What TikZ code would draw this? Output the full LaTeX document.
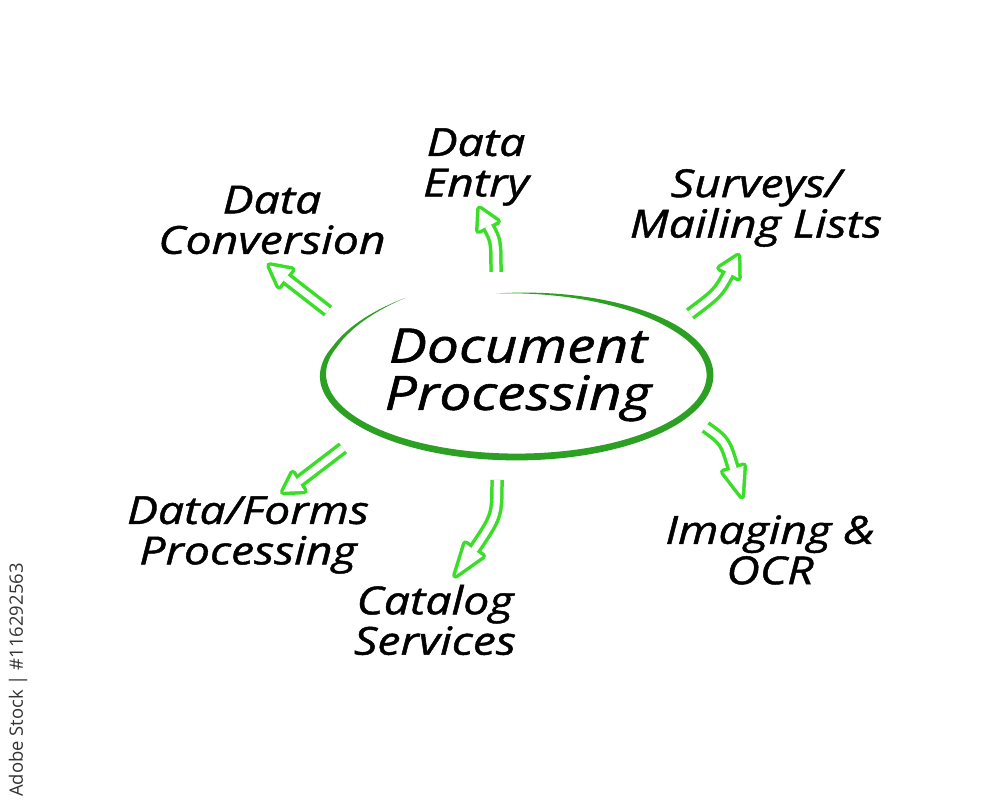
\documentclass[tikz,border=0pt]{standalone}
\usepackage{fontspec}
\usepackage{xcolor}
\usepackage{tikz}
\newfontfamily\handfont{Open Sans}[FakeStretch=1.2, FakeBold=1.2]
\newfontfamily\stockfont{Open Sans}
\definecolor{arrowgreen}{RGB}{58,222,40}
\definecolor{ringgreen}{RGB}{44,160,34}
\tikzset{
	branch/.style={font=\handfont\itshape\fontsize{22}{23}\selectfont, align=center, text=black},
	hub/.style={font=\handfont\itshape\fontsize{27}{27}\selectfont, align=center, text=black},
}
% tail, control, base of head, angle of head, length of head
\newcommand{\hollowarrow}[5]{%
	\draw[arrowgreen, line width=0.27cm] (#1) .. controls (#2) .. (#3);
	\begin{scope}[shift={(#3)}, rotate=#4]
		\filldraw[arrowgreen, line width=0.14cm, line join=round] (0,10.5) -- (#5,0) -- (0,-10.5) -- cycle;
	\end{scope}
	\draw[white, line width=0.13cm] (#1) .. controls (#2) .. (#3);
	\begin{scope}[shift={(#3)}, rotate=#4]
		\fill[white] (0,10.5) -- (#5,0) -- (0,-10.5) -- cycle;
	\end{scope}
}

\begin{document}
\begin{tikzpicture}[x=0.02cm, y=0.02cm]
		\fill[white] (0,0) rectangle (1000,801);
		\useasboundingbox (0,0) rectangle (1000,801);
		% ring
		\fill[ringgreen] plot[domain=125:456, samples=160, smooth]
			({516.5+(193.5+3.4*min(1,1.8*sin((\x-125)*0.5438)))*cos(\x)}, {426+(82+3.4*min(1,1.8*sin((\x-125)*0.5438)))*sin(\x)+10*max(0,(160-\x)/35)})
			-- plot[domain=456:125, samples=160, smooth]
			({516.5+(193.5-3.4*min(1,1.8*sin((\x-125)*0.5438)))*cos(\x)}, {426+(82-3.4*min(1,1.8*sin((\x-125)*0.5438)))*sin(\x)+10*max(0,(160-\x)/35)})
			-- cycle;
		\node[hub] (hub) at (518,426) {Document\\Processing};
		% labels
		\node[branch] (entry) at (476,634) {Data\\Entry};
		\node[branch] (conv) at (272,581) {Data\\Conversion};
		\node[branch] (surveys) at (756,593) {Surveys/\\Mailing Lists};
		\node[branch] (imaging) at (770,251) {Imaging \&\\OCR};
		\node[branch] (catalog) at (435,181) {Catalog\\Services};
		\node[branch] (forms) at (248,266) {Data/Forms\\Processing};
		% arrows
		\coordinate (convTail) at (328,490);
		\coordinate (convBend) at (307,506);
		\coordinate (convHead) at (285.5,523);
		\hollowarrow{convTail}{convBend}{convHead}{142}{20}
		\coordinate (entryTail) at (496,529);
		\coordinate (entryBend) at (496,560);
		\coordinate (entryHead) at (488,575);
		\hollowarrow{entryTail}{entryBend}{entryHead}{116}{19}
		\coordinate (surveysTail) at (690,487);
		\coordinate (surveysBend) at (718,508);
		\coordinate (surveysHead) at (729,528);
		\hollowarrow{surveysTail}{surveysBend}{surveysHead}{62}{19}
		\coordinate (imagingTail) at (705.5,374);
		\coordinate (imagingBend) at (725,360);
		\coordinate (imagingHead) at (733.5,332);
		\hollowarrow{imagingTail}{imagingBend}{imagingHead}{-73}{28}
		\coordinate (catalogTail) at (497,321);
		\coordinate (catalogBend) at (497,285);
		\coordinate (catalogHead) at (474,251);
		\hollowarrow{catalogTail}{catalogBend}{catalogHead}{-126}{31}
		\coordinate (formsTail) at (343,353);
		\coordinate (formsBend) at (320,336);
		\coordinate (formsHead) at (298.5,319);
		\hollowarrow{formsTail}{formsBend}{formsHead}{213}{18}
		% stock id
		\node[rotate=90, font=\stockfont\fontsize{10.5}{12}\selectfont, text=black!80] (stockid) at (18,121) {Adobe Stock | \#116292563};
	\end{tikzpicture}
\end{document}
